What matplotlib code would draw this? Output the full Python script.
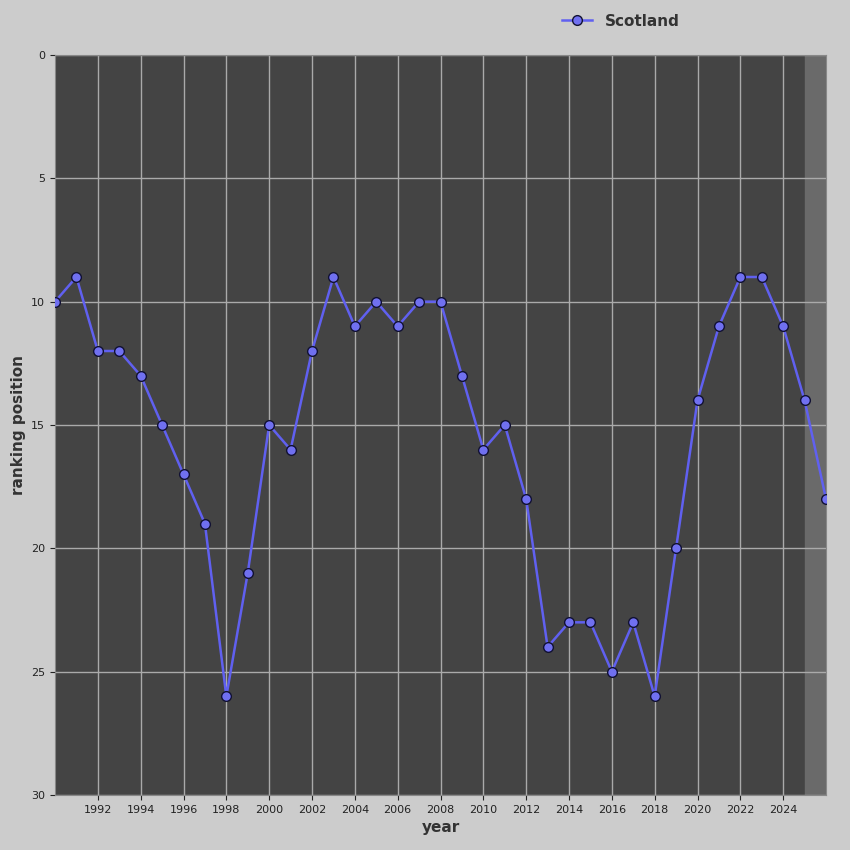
import matplotlib
matplotlib.use("Agg")
import matplotlib.pyplot as plt

years = list(range(1990, 2027))
ranks = [10, 9, 12, 12, 13, 15, 17, 19, 26, 21, 15, 16, 12, 9, 11, 10, 11, 10, 10, 13,
         16, 15, 18, 24, 23, 23, 25, 23, 26, 20, 14, 11, 9, 9, 11, 14, 18]
xticks = list(range(1992, 2025, 2))

fig = plt.figure(figsize=(8.5, 8.5), dpi=100, facecolor="#cccccc")
ax = fig.add_axes([55/850, 55/850, 771/850, 740/850])
ax.set_facecolor("#444444")
ax.axvspan(2025, 2026, color="#6a6a6a", zorder=0)
ax.set_xlim(1990, 2026)
ax.set_ylim(30, 0)
ax.set_xticks(xticks)
ax.set_xticks(range(1990, 2027, 2), minor=False)
ax.set_xticks(xticks)
ax.set_yticks(range(0, 31, 5))
ax.grid(True, color="#aaaaaa", linewidth=1)
ax.set_axisbelow(True)
ax.tick_params(labelsize=8, colors="#222222")
for s in ax.spines.values():
    s.set_color("#888888")
ax.plot(years, ranks, color="#6060f0", linewidth=1.8, marker="o", markersize=7,
        markerfacecolor="#7070f0", markeredgecolor="#111133", label="Scotland", zorder=3)
ax.set_xlabel("year", fontsize=11, fontweight="bold", color="#333333")
ax.set_ylabel("ranking position", fontsize=11, fontweight="bold", color="#333333")
fig.legend(loc="upper center", bbox_to_anchor=(0.73, 1.0), frameon=False,
           prop={"weight": "bold", "size": 11}, labelcolor="#333333")
fig.savefig("out.png", facecolor=fig.get_facecolor())
